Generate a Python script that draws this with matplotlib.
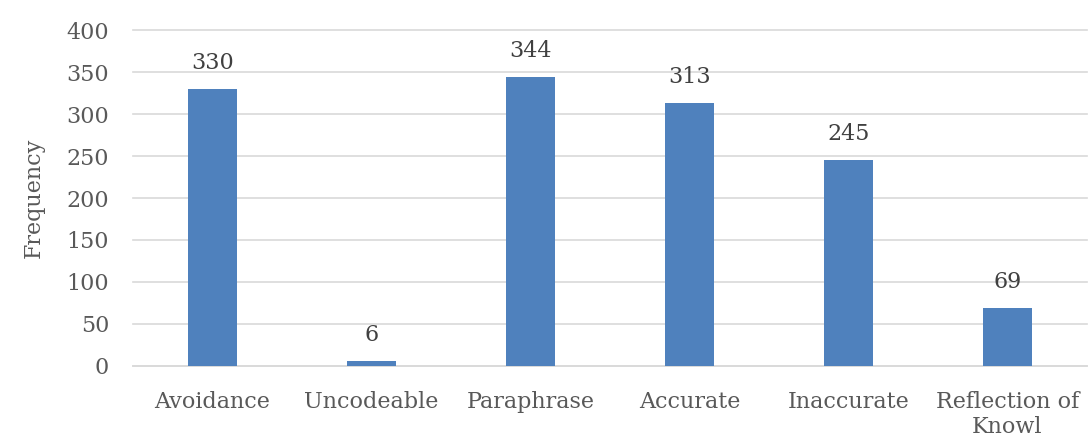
import matplotlib.pyplot as plt

categories = ["Avoidance", "Uncodeable", "Paraphrase", "Accurate", "Inaccurate", "Reflection of\nKnowl"]
frequency = [330, 6, 344, 313, 245, 69]
yticks = [0, 50, 100, 150, 200, 250, 300, 350, 400]

plt.rcParams["font.family"] = ["DejaVu Serif"]

fig = plt.figure(figsize=(10.89, 4.44), dpi=100)
ax = fig.add_axes([0.122, 0.176, 0.876, 0.756])

x = list(range(len(categories)))
bars = ax.bar(x, frequency, width=0.31, color="#4f81bd", zorder=3)
ax.bar_label(bars, labels=[str(v) for v in frequency], padding=11, fontsize=16, color="#404040")

ax.set_xlim(-0.5, len(categories) - 0.5)
ax.set_ylim(0, 400)
ax.set_yticks(yticks)
ax.set_xticks(x)
ax.set_xticklabels(categories, linespacing=1.2)
ax.grid(axis="y", color="#d9d9d9", linewidth=1.2, zorder=0)
for line in ax.get_ygridlines():
    line.set_clip_on(False)
for s in ["top", "right", "left"]:
    ax.spines[s].set_visible(False)
ax.spines["bottom"].set_color("#d9d9d9")
ax.spines["bottom"].set_linewidth(1.2)
ax.tick_params(axis="both", length=0, labelsize=16, colors="#595959")
ax.tick_params(axis="y", pad=17)
ax.tick_params(axis="x", pad=18)
ax.set_ylabel("Frequency", fontsize=16, color="#595959", labelpad=16)

fig.savefig("out.png", dpi=100)
